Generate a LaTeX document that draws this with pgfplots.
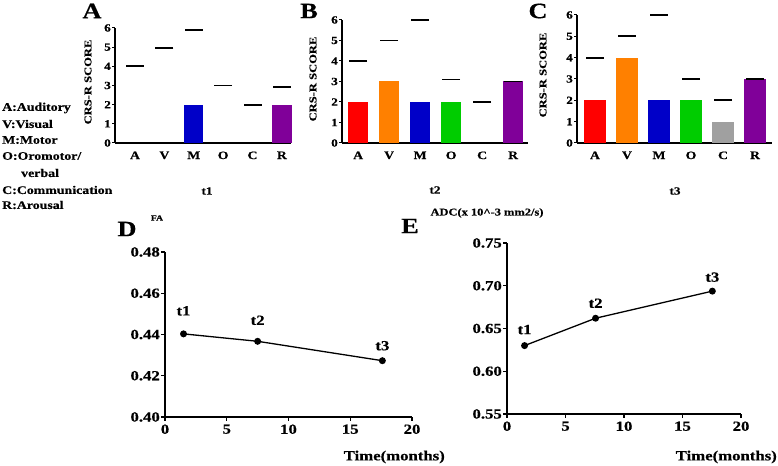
\documentclass[border=0pt]{standalone}
\usepackage{pgfplots}
\pgfplotsset{compat=1.18}
\usepackage{pgfplotstable}
\usepackage{fontspec}
\setmainfont[FakeStretch=1.2, BoldFeatures={FakeBold=0.5}]{Liberation Serif}
\newcommand\fs[1]{\fontsize{#1}{#1}\selectfont}
\definecolor{cred}{RGB}{255,0,0}
\definecolor{corange}{RGB}{255,128,0}
\definecolor{cblue}{RGB}{0,0,200}
\definecolor{cgreen}{RGB}{0,204,0}
\definecolor{cgray}{RGB}{160,160,160}
\definecolor{cpurple}{RGB}{128,0,153}
\pgfplotsset{
  barax/.style={scale only axis, anchor=south west, axis lines=left,
    axis line style={line width=1.2bp,-}, ymin=0, ymax=6, ytick={0,...,6},
    xtick={0,...,5}, xticklabels={A,V,M,O,C,R},
    major tick length=3bp, tick align=outside, tick style={line width=1bp,black},
    x tick style={draw=none},
    yticklabel style={font=\bfseries\fs{11}, inner sep=1bp},
    xticklabel style={font=\bfseries\fs{11.5}, yshift=-2bp},
    /pgf/number format/assume math mode=true, clip=false},
  dash/.style={only marks, mark=-, mark size=9bp, mark options={line width=1.8bp, black}},
  bar/.style={ybar, bar width=0.66, bar shift=0pt, draw=none, fill=#1},
  lineax/.style={scale only axis, anchor=south west, axis lines=left,
    axis line style={line width=1.2bp,-}, xmin=0, xmax=20, xtick={0,5,...,20},
    major tick length=4bp, tick align=outside, tick style={line width=1.2bp,black},
    tick label style={font=\bfseries\fs{14}},
    yticklabel style={inner sep=1bp, /pgf/number format/.cd, fixed, fixed zerofill, precision=2},
    /pgf/number format/assume math mode=true, clip=false},
  ptline/.style={black, line width=1.3bp, mark=*, mark size=2.8bp,
    visualization depends on={\thisrow{dy} \as \dy},
    nodes near coords, point meta=explicit symbolic,
    every node near coord/.style={anchor=center, yshift=\dy bp, font=\bfseries\fs{14}}}
}
\pgfplotstableread{
x y lab dy
1.5 0.4403 t1 23
7.5 0.4367 t2 21
17.6 0.4273 t3 15
}\fatab
\pgfplotstableread{
x y lab dy
1.5 0.630 t1 16
7.57 0.662 t2 15
17.55 0.6937 t3 14
}\adctab
\begin{document}
\begin{tikzpicture}[x=1bp,y=1bp]
\useasboundingbox (0,0) rectangle (778,466);
% Panel A
\begin{axis}[barax, at={(115bp,323bp)}, width=176bp, height=115bp, xmin=-0.68, xmax=5.31]
\addplot[bar=cblue] coordinates {(2,2)};
\addplot[bar=cpurple] coordinates {(5,2)};
\addplot[dash] coordinates {(0,4) (1,4.95) (2,5.9) (3,3) (4,2) (5,2.93)};
\end{axis}
% Panel B
\begin{axis}[barax, at={(342bp,323bp)}, width=186bp, height=123bp, xmin=-0.52, xmax=5.48]
\addplot[bar=cred] coordinates {(0,2)};
\addplot[bar=corange] coordinates {(1,3)};
\addplot[bar=cblue] coordinates {(2,2)};
\addplot[bar=cgreen] coordinates {(3,2)};
\addplot[bar=cpurple] coordinates {(5,3)};
\addplot[dash] coordinates {(0,4) (1,5) (2,6) (3,3.1) (4,2) (5,3)};
\end{axis}
% Panel C
\begin{axis}[barax, at={(577bp,323bp)}, width=195bp, height=128bp, xmin=-0.56, xmax=5.53]
\addplot[bar=cred] coordinates {(0,2)};
\addplot[bar=corange] coordinates {(1,4)};
\addplot[bar=cblue] coordinates {(2,2)};
\addplot[bar=cgreen] coordinates {(3,2)};
\addplot[bar=cgray] coordinates {(4,1)};
\addplot[bar=cpurple] coordinates {(5,3)};
\addplot[dash] coordinates {(0,4) (1,5) (2,6) (3,3) (4,2) (5,3)};
\end{axis}
% Panel D
\begin{axis}[lineax, at={(165bp,49bp)}, width=247bp, height=165bp, ymin=0.40, ymax=0.48, ytick={0.40,0.42,...,0.481}]
\addplot[ptline] table[x=x, y=y, meta=lab] {\fatab};
\end{axis}
% Panel E
\begin{axis}[lineax, at={(507bp,52bp)}, width=234bp, height=171bp, ymin=0.55, ymax=0.75, ytick={0.55,0.60,...,0.751}]
\addplot[ptline] table[x=x, y=y, meta=lab] {\adctab};
\end{axis}
% Texts
\begin{scope}[every node/.style={font=\bfseries, inner sep=0pt}]
\node[font=\bfseries\fs{22}] at (92,455) {A};
\node[font=\bfseries\fs{22}] at (309,455) {B};
\node[font=\bfseries\fs{22}] at (538,455) {C};
\node[font=\bfseries\fs{22}] at (127,237) {D};
\node[font=\bfseries\fs{22}] at (410,240) {E};
\node[font=\bfseries\fs{8}] at (157,248) {FA};
\node[font=\bfseries\fs{10.4}] at (487,253) {ADC(x 10\^{}-3 mm2/s)};
\node[font=\bfseries\fs{11}] at (207,275) {t1};
\node[font=\bfseries\fs{11}] at (435,276) {t2};
\node[font=\bfseries\fs{11}] at (675,275) {t3};
\node[font=\bfseries\fs{10.5}, rotate=90] at (88,384) {CRS-R SCORE};
\node[font=\bfseries\fs{10.5}, rotate=90] at (313,387) {CRS-R SCORE};
\node[font=\bfseries\fs{10.5}, rotate=90] at (543,391) {CRS-R SCORE};
\node[font=\bfseries\fs{11.6}, anchor=west] at (2,358) {A:Auditory};
\node[font=\bfseries\fs{11.6}, anchor=west] at (2,342) {V:Visual};
\node[font=\bfseries\fs{11.6}, anchor=west] at (2,326) {M:Motor};
\node[font=\bfseries\fs{11.6}, anchor=west] at (2,310) {O:Oromotor/};
\node[font=\bfseries\fs{11.6}, anchor=west] at (21,293) {verbal};
\node[font=\bfseries\fs{11.6}, anchor=west] at (2,276) {C:Communication};
\node[font=\bfseries\fs{11.6}, anchor=west] at (2,261) {R:Arousal};
\node[font=\bfseries\fs{14}, anchor=east] at (445,9) {Time(months)};
\node[font=\bfseries\fs{14}, anchor=east] at (777,9) {Time(months)};
\end{scope}
\end{tikzpicture}
\end{document}
